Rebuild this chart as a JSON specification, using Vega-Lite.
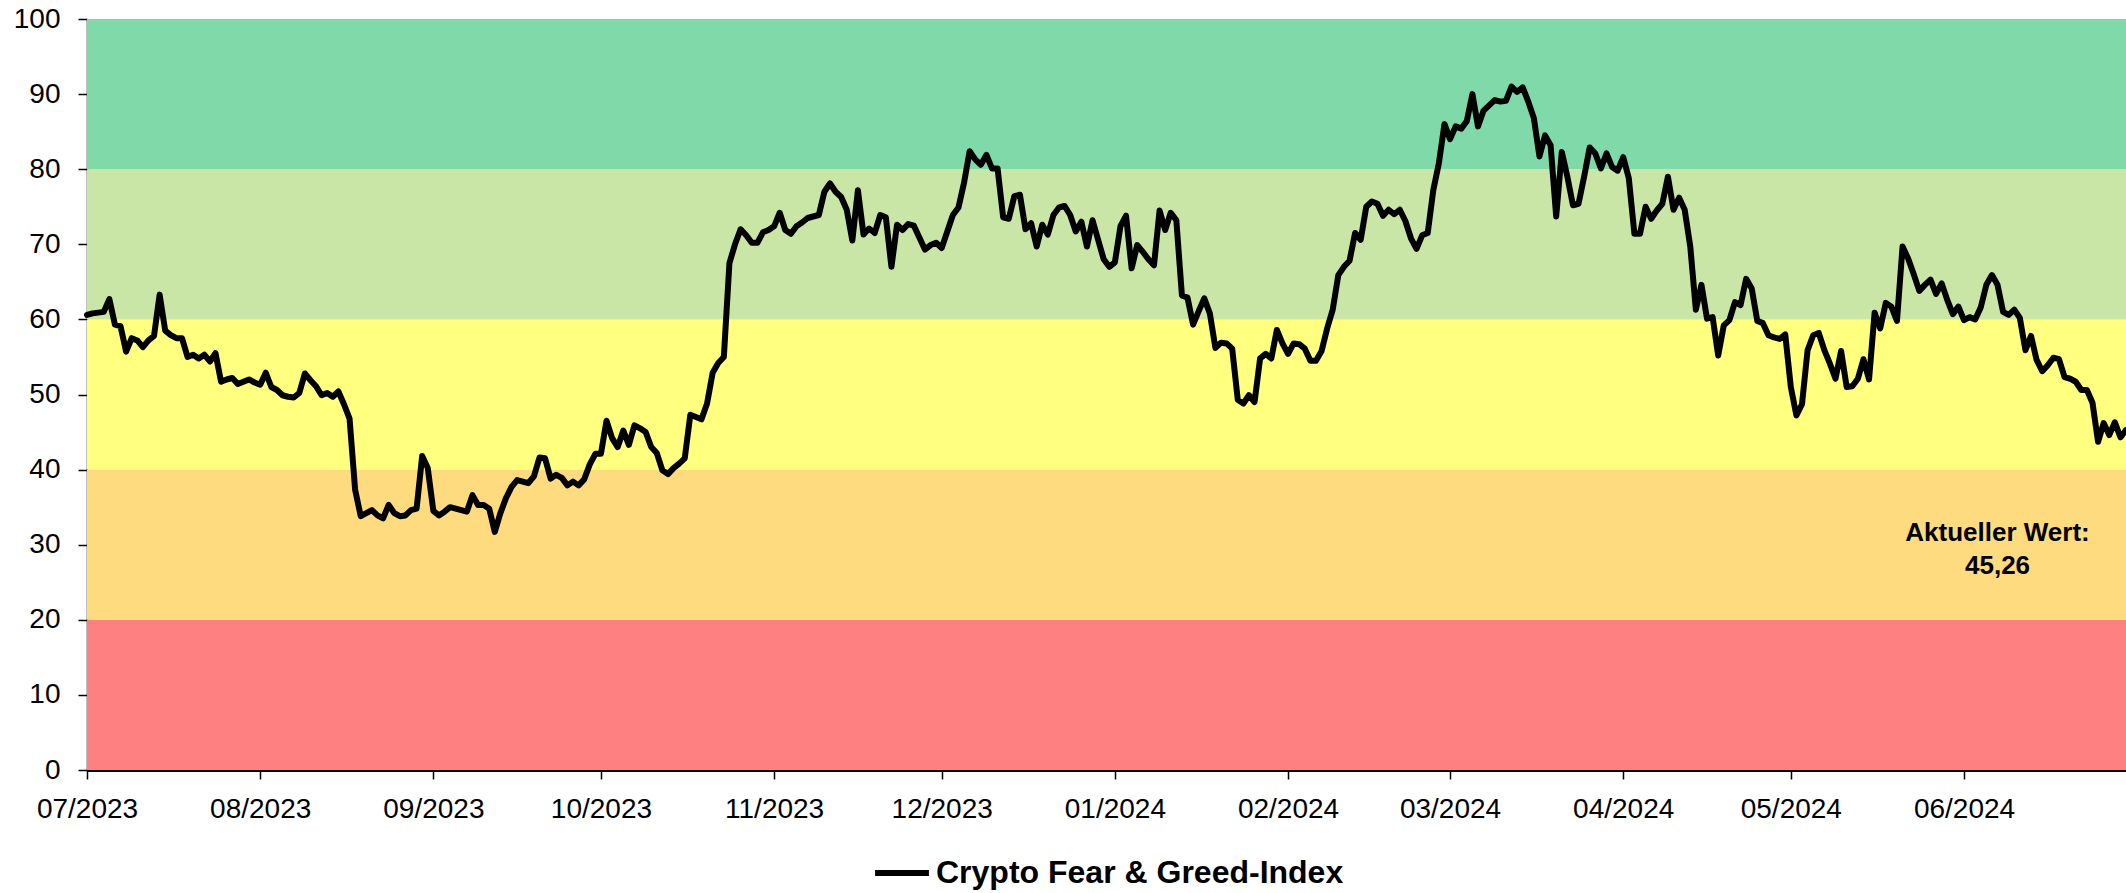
{
  "$schema": "https://vega.github.io/schema/vega-lite/v6.json",
  "width": 2039,
  "height": 751,
  "autosize": {"type": "none"},
  "padding": {"left": 87, "top": 19, "right": 0, "bottom": 123},
  "background": "white",
  "config": {
    "view": {"stroke": null},
    "axis": {"grid": false, "title": null, "labelFont": "Liberation Sans", "labelFontSize": 28, "labelColor": "black", "domainColor": "black", "tickColor": "black", "zindex": 1}
  },
  "datasets": {
    "bands": [
      {"zone": "Extreme Angst", "lo": 0, "hi": 20},
      {"zone": "Angst", "lo": 20, "hi": 40},
      {"zone": "Neutral", "lo": 40, "hi": 60},
      {"zone": "Gier", "lo": 60, "hi": 80},
      {"zone": "Extreme Gier", "lo": 80, "hi": 100}
    ],
    "note": [
      {"t": "2024-06-07", "v": 31.5, "label": ["Aktueller Wert:", "45,26"]}
    ],
    "fgi": [
      {"t":"2023-07-01","v":60.6},{"t":"2023-07-02","v":60.8},{"t":"2023-07-03","v":60.9},{"t":"2023-07-04","v":61},{"t":"2023-07-05","v":62.7},{"t":"2023-07-06","v":59.3},{"t":"2023-07-07","v":59.1},{"t":"2023-07-08","v":55.7},{"t":"2023-07-09","v":57.5},{"t":"2023-07-10","v":57.2},{"t":"2023-07-11","v":56.3},{"t":"2023-07-12","v":57.2},{"t":"2023-07-13","v":57.8},{"t":"2023-07-14","v":63.3},{"t":"2023-07-15","v":58.5},{"t":"2023-07-16","v":57.9},{"t":"2023-07-17","v":57.5},{"t":"2023-07-18","v":57.5},{"t":"2023-07-19","v":55},{"t":"2023-07-20","v":55.3},{"t":"2023-07-21","v":54.8},{"t":"2023-07-22","v":55.3},{"t":"2023-07-23","v":54.4},{"t":"2023-07-24","v":55.5},{"t":"2023-07-25","v":51.7},{"t":"2023-07-26","v":52},{"t":"2023-07-27","v":52.2},{"t":"2023-07-28","v":51.4},{"t":"2023-07-29","v":51.7},{"t":"2023-07-30","v":52},{"t":"2023-07-31","v":51.6},
      {"t":"2023-08-01","v":51.3},{"t":"2023-08-02","v":52.9},{"t":"2023-08-03","v":51},{"t":"2023-08-04","v":50.6},{"t":"2023-08-05","v":49.9},{"t":"2023-08-06","v":49.7},{"t":"2023-08-07","v":49.6},{"t":"2023-08-08","v":50.2},{"t":"2023-08-09","v":52.8},{"t":"2023-08-10","v":51.9},{"t":"2023-08-11","v":51.1},{"t":"2023-08-12","v":49.9},{"t":"2023-08-13","v":50.2},{"t":"2023-08-14","v":49.7},{"t":"2023-08-15","v":50.4},{"t":"2023-08-16","v":48.7},{"t":"2023-08-17","v":46.8},{"t":"2023-08-18","v":37.3},{"t":"2023-08-19","v":33.8},{"t":"2023-08-20","v":34.2},{"t":"2023-08-21","v":34.6},{"t":"2023-08-22","v":33.9},{"t":"2023-08-23","v":33.5},{"t":"2023-08-24","v":35.3},{"t":"2023-08-25","v":34.2},{"t":"2023-08-26","v":33.8},{"t":"2023-08-27","v":33.9},{"t":"2023-08-28","v":34.6},{"t":"2023-08-29","v":34.8},{"t":"2023-08-30","v":41.8},{"t":"2023-08-31","v":40.2},
      {"t":"2023-09-01","v":34.5},{"t":"2023-09-02","v":33.9},{"t":"2023-09-03","v":34.4},{"t":"2023-09-04","v":35},{"t":"2023-09-05","v":34.8},{"t":"2023-09-06","v":34.6},{"t":"2023-09-07","v":34.4},{"t":"2023-09-08","v":36.6},{"t":"2023-09-09","v":35.3},{"t":"2023-09-10","v":35.3},{"t":"2023-09-11","v":34.8},{"t":"2023-09-12","v":31.7},{"t":"2023-09-13","v":34.2},{"t":"2023-09-14","v":36.2},{"t":"2023-09-15","v":37.7},{"t":"2023-09-16","v":38.6},{"t":"2023-09-17","v":38.4},{"t":"2023-09-18","v":38.2},{"t":"2023-09-19","v":39.1},{"t":"2023-09-20","v":41.6},{"t":"2023-09-21","v":41.5},{"t":"2023-09-22","v":38.8},{"t":"2023-09-23","v":39.3},{"t":"2023-09-24","v":38.9},{"t":"2023-09-25","v":37.9},{"t":"2023-09-26","v":38.4},{"t":"2023-09-27","v":37.9},{"t":"2023-09-28","v":38.7},{"t":"2023-09-29","v":40.7},{"t":"2023-09-30","v":42.1},
      {"t":"2023-10-01","v":42.1},{"t":"2023-10-02","v":46.5},{"t":"2023-10-03","v":44.2},{"t":"2023-10-04","v":43},{"t":"2023-10-05","v":45.2},{"t":"2023-10-06","v":43.3},{"t":"2023-10-07","v":45.9},{"t":"2023-10-08","v":45.5},{"t":"2023-10-09","v":45},{"t":"2023-10-10","v":43},{"t":"2023-10-11","v":42.2},{"t":"2023-10-12","v":39.9},{"t":"2023-10-13","v":39.4},{"t":"2023-10-14","v":40.2},{"t":"2023-10-15","v":40.8},{"t":"2023-10-16","v":41.5},{"t":"2023-10-17","v":47.3},{"t":"2023-10-18","v":47},{"t":"2023-10-19","v":46.7},{"t":"2023-10-20","v":48.8},{"t":"2023-10-21","v":52.9},{"t":"2023-10-22","v":54.2},{"t":"2023-10-23","v":55},{"t":"2023-10-24","v":67.5},{"t":"2023-10-25","v":70},{"t":"2023-10-26","v":72},{"t":"2023-10-27","v":71.2},{"t":"2023-10-28","v":70.2},{"t":"2023-10-29","v":70.2},{"t":"2023-10-30","v":71.6},{"t":"2023-10-31","v":71.9},
      {"t":"2023-11-01","v":72.4},{"t":"2023-11-02","v":74.2},{"t":"2023-11-03","v":71.9},{"t":"2023-11-04","v":71.4},{"t":"2023-11-05","v":72.4},{"t":"2023-11-06","v":72.9},{"t":"2023-11-07","v":73.5},{"t":"2023-11-08","v":73.7},{"t":"2023-11-09","v":73.9},{"t":"2023-11-10","v":77},{"t":"2023-11-11","v":78.1},{"t":"2023-11-12","v":77},{"t":"2023-11-13","v":76.3},{"t":"2023-11-14","v":74.6},{"t":"2023-11-15","v":70.5},{"t":"2023-11-16","v":77.2},{"t":"2023-11-17","v":71.3},{"t":"2023-11-18","v":72.1},{"t":"2023-11-19","v":71.5},{"t":"2023-11-20","v":73.9},{"t":"2023-11-21","v":73.6},{"t":"2023-11-22","v":67},{"t":"2023-11-23","v":72.6},{"t":"2023-11-24","v":71.9},{"t":"2023-11-25","v":72.7},{"t":"2023-11-26","v":72.5},{"t":"2023-11-27","v":70.9},{"t":"2023-11-28","v":69.3},{"t":"2023-11-29","v":69.9},{"t":"2023-11-30","v":70.2},
      {"t":"2023-12-01","v":69.5},{"t":"2023-12-02","v":71.7},{"t":"2023-12-03","v":73.9},{"t":"2023-12-04","v":74.9},{"t":"2023-12-05","v":78.2},{"t":"2023-12-06","v":82.4},{"t":"2023-12-07","v":81.3},{"t":"2023-12-08","v":80.6},{"t":"2023-12-09","v":81.9},{"t":"2023-12-10","v":80.1},{"t":"2023-12-11","v":80.1},{"t":"2023-12-12","v":73.6},{"t":"2023-12-13","v":73.4},{"t":"2023-12-14","v":76.4},{"t":"2023-12-15","v":76.6},{"t":"2023-12-16","v":72},{"t":"2023-12-17","v":72.8},{"t":"2023-12-18","v":69.7},{"t":"2023-12-19","v":72.6},{"t":"2023-12-20","v":71.3},{"t":"2023-12-21","v":73.9},{"t":"2023-12-22","v":74.9},{"t":"2023-12-23","v":75.1},{"t":"2023-12-24","v":73.9},{"t":"2023-12-25","v":71.7},{"t":"2023-12-26","v":73},{"t":"2023-12-27","v":69.7},{"t":"2023-12-28","v":73.2},{"t":"2023-12-29","v":70.6},{"t":"2023-12-30","v":68},{"t":"2023-12-31","v":67},
      {"t":"2024-01-01","v":67.6},{"t":"2024-01-02","v":72.4},{"t":"2024-01-03","v":73.8},{"t":"2024-01-04","v":66.8},{"t":"2024-01-05","v":69.9},{"t":"2024-01-06","v":69},{"t":"2024-01-07","v":68},{"t":"2024-01-08","v":67.2},{"t":"2024-01-09","v":74.5},{"t":"2024-01-10","v":71.9},{"t":"2024-01-11","v":74.2},{"t":"2024-01-12","v":73.2},{"t":"2024-01-13","v":63.2},{"t":"2024-01-14","v":62.9},{"t":"2024-01-15","v":59.3},{"t":"2024-01-16","v":61.1},{"t":"2024-01-17","v":62.8},{"t":"2024-01-18","v":60.8},{"t":"2024-01-19","v":56.2},{"t":"2024-01-20","v":56.9},{"t":"2024-01-21","v":56.8},{"t":"2024-01-22","v":56.1},{"t":"2024-01-23","v":49.3},{"t":"2024-01-24","v":48.8},{"t":"2024-01-25","v":49.9},{"t":"2024-01-26","v":49},{"t":"2024-01-27","v":54.8},{"t":"2024-01-28","v":55.4},{"t":"2024-01-29","v":54.8},{"t":"2024-01-30","v":58.6},{"t":"2024-01-31","v":56.8},
      {"t":"2024-02-01","v":55.4},{"t":"2024-02-02","v":56.8},{"t":"2024-02-03","v":56.7},{"t":"2024-02-04","v":56.1},{"t":"2024-02-05","v":54.5},{"t":"2024-02-06","v":54.5},{"t":"2024-02-07","v":55.8},{"t":"2024-02-08","v":58.8},{"t":"2024-02-09","v":61.3},{"t":"2024-02-10","v":65.9},{"t":"2024-02-11","v":67},{"t":"2024-02-12","v":67.8},{"t":"2024-02-13","v":71.5},{"t":"2024-02-14","v":70.6},{"t":"2024-02-15","v":75},{"t":"2024-02-16","v":75.7},{"t":"2024-02-17","v":75.4},{"t":"2024-02-18","v":73.8},{"t":"2024-02-19","v":74.6},{"t":"2024-02-20","v":74},{"t":"2024-02-21","v":74.6},{"t":"2024-02-22","v":73.1},{"t":"2024-02-23","v":70.8},{"t":"2024-02-24","v":69.4},{"t":"2024-02-25","v":71.2},{"t":"2024-02-26","v":71.5},{"t":"2024-02-27","v":77.2},{"t":"2024-02-28","v":80.8},{"t":"2024-02-29","v":86},
      {"t":"2024-03-01","v":84},{"t":"2024-03-02","v":85.7},{"t":"2024-03-03","v":85.4},{"t":"2024-03-04","v":86.4},{"t":"2024-03-05","v":90},{"t":"2024-03-06","v":85.7},{"t":"2024-03-07","v":87.8},{"t":"2024-03-08","v":88.5},{"t":"2024-03-09","v":89.2},{"t":"2024-03-10","v":89},{"t":"2024-03-11","v":89.1},{"t":"2024-03-12","v":91},{"t":"2024-03-13","v":90.3},{"t":"2024-03-14","v":90.9},{"t":"2024-03-15","v":89},{"t":"2024-03-16","v":86.8},{"t":"2024-03-17","v":81.7},{"t":"2024-03-18","v":84.5},{"t":"2024-03-19","v":83.2},{"t":"2024-03-20","v":73.7},{"t":"2024-03-21","v":82.3},{"t":"2024-03-22","v":79},{"t":"2024-03-23","v":75.2},{"t":"2024-03-24","v":75.4},{"t":"2024-03-25","v":79},{"t":"2024-03-26","v":82.9},{"t":"2024-03-27","v":82.1},{"t":"2024-03-28","v":80.1},{"t":"2024-03-29","v":82.1},{"t":"2024-03-30","v":80.3},{"t":"2024-03-31","v":79.8},
      {"t":"2024-04-01","v":81.6},{"t":"2024-04-02","v":78.8},{"t":"2024-04-03","v":71.4},{"t":"2024-04-04","v":71.4},{"t":"2024-04-05","v":75},{"t":"2024-04-06","v":73.4},{"t":"2024-04-07","v":74.5},{"t":"2024-04-08","v":75.4},{"t":"2024-04-09","v":79},{"t":"2024-04-10","v":74.6},{"t":"2024-04-11","v":76.2},{"t":"2024-04-12","v":74.6},{"t":"2024-04-13","v":69.7},{"t":"2024-04-14","v":61.3},{"t":"2024-04-15","v":64.6},{"t":"2024-04-16","v":60.1},{"t":"2024-04-17","v":60.3},{"t":"2024-04-18","v":55.2},{"t":"2024-04-19","v":59.2},{"t":"2024-04-20","v":59.9},{"t":"2024-04-21","v":62.3},{"t":"2024-04-22","v":61.9},{"t":"2024-04-23","v":65.4},{"t":"2024-04-24","v":64.1},{"t":"2024-04-25","v":59.8},{"t":"2024-04-26","v":59.5},{"t":"2024-04-27","v":57.9},{"t":"2024-04-28","v":57.6},{"t":"2024-04-29","v":57.4},{"t":"2024-04-30","v":58},
      {"t":"2024-05-01","v":51},{"t":"2024-05-02","v":47.2},{"t":"2024-05-03","v":48.7},{"t":"2024-05-04","v":55.9},{"t":"2024-05-05","v":57.9},{"t":"2024-05-06","v":58.2},{"t":"2024-05-07","v":55.9},{"t":"2024-05-08","v":54.1},{"t":"2024-05-09","v":52.1},{"t":"2024-05-10","v":55.8},{"t":"2024-05-11","v":51},{"t":"2024-05-12","v":51.1},{"t":"2024-05-13","v":52.1},{"t":"2024-05-14","v":54.7},{"t":"2024-05-15","v":52},{"t":"2024-05-16","v":60.9},{"t":"2024-05-17","v":58.8},{"t":"2024-05-18","v":62.2},{"t":"2024-05-19","v":61.7},{"t":"2024-05-20","v":59.8},{"t":"2024-05-21","v":69.7},{"t":"2024-05-22","v":68.1},{"t":"2024-05-23","v":66},{"t":"2024-05-24","v":63.8},{"t":"2024-05-25","v":64.6},{"t":"2024-05-26","v":65.3},{"t":"2024-05-27","v":63.4},{"t":"2024-05-28","v":64.8},{"t":"2024-05-29","v":62.6},{"t":"2024-05-30","v":60.7},{"t":"2024-05-31","v":61.7},
      {"t":"2024-06-01","v":59.9},{"t":"2024-06-02","v":60.3},{"t":"2024-06-03","v":60},{"t":"2024-06-04","v":61.6},{"t":"2024-06-05","v":64.6},{"t":"2024-06-06","v":65.9},{"t":"2024-06-07","v":64.6},{"t":"2024-06-08","v":61},{"t":"2024-06-09","v":60.6},{"t":"2024-06-10","v":61.3},{"t":"2024-06-11","v":60.2},{"t":"2024-06-12","v":55.9},{"t":"2024-06-13","v":57.8},{"t":"2024-06-14","v":54.6},{"t":"2024-06-15","v":53.1},{"t":"2024-06-16","v":53.9},{"t":"2024-06-17","v":54.9},{"t":"2024-06-18","v":54.7},{"t":"2024-06-19","v":52.3},{"t":"2024-06-20","v":52.1},{"t":"2024-06-21","v":51.7},{"t":"2024-06-22","v":50.6},{"t":"2024-06-23","v":50.6},{"t":"2024-06-24","v":48.9},{"t":"2024-06-25","v":43.7},{"t":"2024-06-26","v":46.2},{"t":"2024-06-27","v":44.6},{"t":"2024-06-28","v":46.3},{"t":"2024-06-29","v":44.3},{"t":"2024-06-30","v":45.26}
    ]
  },
  "layer": [
    {
      "data": {"name": "bands"},
      "mark": {"type": "rect"},
      "encoding": {
        "y": {"field": "lo", "type": "quantitative", "scale": {"domain": [0, 100], "nice": false}, "axis": {"values": [0,10,20,30,40,50,60,70,80,90,100], "tickSize": 9, "tickWidth": 1.5, "domainWidth": 1.5, "labelPadding": 18}},
        "y2": {"field": "hi"},
        "fill": {"field": "zone", "type": "nominal", "scale": {"domain": ["Extreme Angst", "Angst", "Neutral", "Gier", "Extreme Gier"], "range": ["#FF8080", "#FFDB80", "#FFFF80", "#C9E6A7", "#80D9A8"]}, "legend": null}
      }
    },
    {
      "data": {"name": "fgi"},
      "mark": {"type": "line", "strokeWidth": 6, "strokeJoin": "round", "strokeCap": "round"},
      "encoding": {
        "x": {"field": "t", "type": "temporal", "scale": {"type": "utc", "domain": [{"year": 2023, "month": 7, "date": 1, "utc": true}, {"year": 2024, "month": 6, "date": 30, "utc": true}]}, "axis": {"format": "%m/%Y", "tickCount": {"interval": "month", "step": 1}, "tickSize": 9, "tickWidth": 1.5, "domainWidth": 3, "labelPadding": 16, "labelFlush": false, "labelOverlap": false, "labelBound": false}},
        "y": {"field": "v", "type": "quantitative"},
        "stroke": {"datum": "Crypto Fear & Greed-Index", "type": "nominal", "scale": {"range": ["#000000"]}, "legend": {"title": null, "orient": "none", "legendX": 785, "legendY": 824, "symbolType": "stroke", "symbolStrokeWidth": 6, "symbolSize": 2900, "labelFont": "Liberation Sans", "labelFontWeight": "bold", "labelFontSize": 32, "labelColor": "black", "labelOffset": 4, "padding": 0, "labelLimit": 0}}
      }
    },
    {
      "data": {"name": "note"},
      "mark": {"type": "text", "font": "Liberation Sans", "fontWeight": "bold", "fontSize": 26, "lineHeight": 33, "align": "center", "baseline": "middle", "color": "black"},
      "encoding": {
        "x": {"field": "t", "type": "temporal"},
        "y": {"field": "v", "type": "quantitative"},
        "text": {"field": "label"}
      }
    }
  ]
}
